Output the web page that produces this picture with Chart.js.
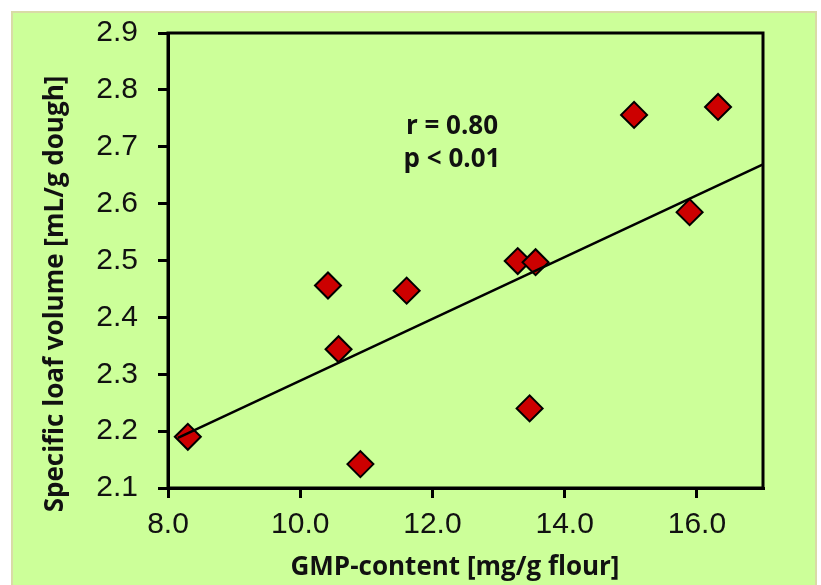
<!DOCTYPE html>
<html>
<head>
<meta charset="utf-8">
<script src="https://cdn.jsdelivr.net/npm/chart.js@4.4.1/dist/chart.umd.min.js"></script>
<style>
  html, body { margin: 0; padding: 0; background: #ffffff; }
  #wrap { width: 821px; height: 585px; }
</style>
</head>
<body>
<div id="wrap"><canvas id="c" width="821" height="585"></canvas></div>
<script>
// ---- data ----
const gmpContent = [8.30, 10.91, 10.42, 10.58, 11.61, 13.29, 13.56, 13.47, 15.05, 15.89, 16.32];
const loafVolume = [2.190, 2.142, 2.456, 2.344, 2.447, 2.499, 2.497, 2.240, 2.756, 2.585, 2.770];
const fitX = [8.15, 17.0];
const fitY = [2.188, 2.669];
const xTickValues = [8, 10, 12, 14, 16];
const yTickValues = [2.1, 2.2, 2.3, 2.4, 2.5, 2.6, 2.7, 2.8, 2.9];
const xTitle = 'GMP-content [mg/g flour]';
const yTitle = 'Specific loaf volume [mL/g dough]';
const statLines = ['r = 0.80', 'p < 0.01'];

const GREEN = '#ccff99';
const TITLE_FONT = 'bold 26px "Open Sans", "Noto Sans", sans-serif';

const bgPlugin = {
  id: 'bg',
  beforeDraw(chart) {
    const ctx = chart.ctx;
    ctx.save();
    ctx.fillStyle = '#ffffff';
    ctx.fillRect(0, 0, chart.width, chart.height);
    ctx.fillStyle = GREEN;
    ctx.fillRect(12, 12, 804, chart.height);
    ctx.strokeStyle = '#d9dba6';
    ctx.lineWidth = 2;
    ctx.strokeRect(12, 12, 804, chart.height + 10);
    ctx.restore();
  },
  beforeDatasetsDraw(chart) {
    const a = chart.chartArea;
    const ctx = chart.ctx;
    ctx.save();
    ctx.strokeStyle = '#000';
    ctx.lineWidth = 3;
    ctx.strokeRect(a.left, a.top, a.right - a.left, a.bottom - a.top);
    ctx.restore();
  },
  afterDraw(chart) {
    const ctx = chart.ctx;
    ctx.save();
    ctx.fillStyle = '#111';
    ctx.font = TITLE_FONT;
    ctx.textAlign = 'center';
    ctx.textBaseline = 'alphabetic';
    // x title
    ctx.fillText(xTitle, 455, 575);
    // stat annotation
    ctx.fillText(statLines[0], 452, 134);
    ctx.fillText(statLines[1], 452, 167);
    // y title
    ctx.translate(63, 294);
    ctx.rotate(-Math.PI / 2);
    ctx.fillText(yTitle, 0, 0);
    ctx.restore();
  }
};

const scatterData = gmpContent.map((x, i) => ({ x: x, y: loafVolume[i] }));
const fitData = fitX.map((x, i) => ({ x: x, y: fitY[i] }));

new Chart(document.getElementById('c'), {
  type: 'scatter',
  data: {
    datasets: [
      {
        type: 'line',
        label: 'fit',
        data: fitData,
        borderColor: '#000',
        borderWidth: 2.5,
        pointRadius: 0,
        fill: false,
        order: 0
      },
      {
        label: 'samples',
        data: scatterData,
        pointStyle: 'rectRot',
        pointRadius: 13,
        pointHoverRadius: 13,
        backgroundColor: '#cc0000',
        borderColor: '#000',
        borderWidth: 2,
        order: 1
      }
    ]
  },
  plugins: [bgPlugin],
  options: {
    responsive: false,
    devicePixelRatio: 1,
    animation: false,
    layout: { padding: { top: 33, right: 58, left: 0, bottom: 0 } },
    plugins: { legend: { display: false }, tooltip: { enabled: false } },
    scales: {
      x: {
        type: 'linear',
        min: 8, max: 17,
        afterFit(s) { s.height = 97; s.paddingLeft = 0; s.paddingRight = 0; },
        afterBuildTicks(s) { s.ticks = xTickValues.map(v => ({ value: v })); },
        border: { display: true, color: '#000', width: 3 },
        grid: { drawOnChartArea: false, drawTicks: true, tickLength: 10, color: '#000', lineWidth: 3 },
        ticks: {
          color: '#111',
          padding: 9,
          maxRotation: 0,
          autoSkip: false,
          font: { family: '"Liberation Sans", Arial, sans-serif', size: 30 },
          callback: v => Number(v).toFixed(1)
        },
        title: { display: false }
      },
      y: {
        type: 'linear',
        min: 2.1, max: 2.9,
        afterFit(s) { s.width = 168; s.paddingTop = 0; s.paddingBottom = 0; },
        afterBuildTicks(s) { s.ticks = yTickValues.map(v => ({ value: v })); },
        border: { display: true, color: '#000', width: 3 },
        grid: { drawOnChartArea: false, drawTicks: true, tickLength: 10, color: '#000', lineWidth: 3 },
        ticks: {
          color: '#111',
          padding: 20,
          autoSkip: false,
          font: { family: '"Liberation Sans", Arial, sans-serif', size: 30 },
          callback: v => Number(v).toFixed(1)
        },
        title: { display: false }
      }
    }
  }
});
</script>
</body>
</html>
